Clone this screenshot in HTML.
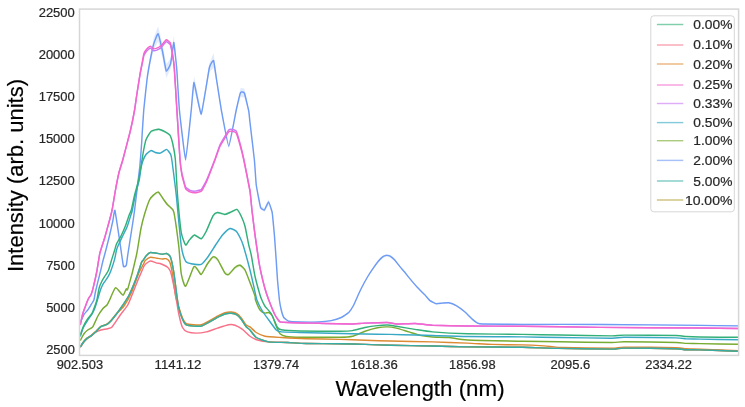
<!DOCTYPE html>
<html><head><meta charset="utf-8"><style>
html,body{margin:0;padding:0;background:#fff;}
body{width:745px;height:407px;overflow:hidden;}
svg{display:block;will-change:transform;}
text{font-family:"Liberation Sans",sans-serif;fill:#262626;}
.tk{font-size:12.4px;stroke:#262626;stroke-width:0.2px;}
.lg{font-size:13.2px;stroke:#262626;stroke-width:0.2px;}
.lab{font-size:22.7px;fill:#000;stroke:#000;stroke-width:0.2px;}
</style></head><body>
<svg width="745" height="407" viewBox="0 0 745 407">
<rect x="0" y="0" width="745" height="407" fill="#fff"/>
<defs><clipPath id="ax"><rect x="79.5" y="9.1" width="659.1" height="346.29999999999995"/></clipPath></defs>
<g clip-path="url(#ax)">
<path d="M79.80,322.40 L80.90,320.65 L84.00,313.80 L87.75,309.40 L90.90,304.40 L93.90,299.40 L95.40,291.40 L97.50,282.60 L100.30,271.50 L102.90,260.40 L105.90,249.40 L109.90,233.40 L112.80,220.40 L114.90,209.70 L119.50,239.00 L123.40,265.60 L126.30,264.60 L127.75,254.40 L133.20,219.40 L134.60,209.40 L138.20,179.40 L139.80,166.20 L140.80,153.30 L141.70,141.10 L142.10,133.80 L143.75,108.80 L147.10,76.25 L150.25,56.00 L153.75,37.75 L158.10,26.25 L162.50,44.25 L166.25,64.00 L170.60,58.75 L173.75,35.50 L175.60,53.50 L176.90,69.00 L179.40,108.50 L185.60,158.00 L191.25,108.00 L194.00,76.00 L201.25,111.00 L209.40,63.50 L213.60,53.10 L216.60,77.00 L221.50,109.00 L228.75,143.75 L236.25,108.00 L240.60,88.00 L244.40,88.60 L248.75,109.00 L250.00,121.30 L254.40,158.80 L256.25,183.80 L260.60,206.30 L264.40,208.00 L268.50,198.90 L271.90,209.25 L272.50,213.80 L274.40,233.80 L276.25,259.80 L277.50,278.80 L279.40,298.80 L281.25,308.80 L283.75,316.30 L288.75,320.65 L300.00,321.40 L318.75,321.30 L331.25,320.00 L341.25,316.90 L348.75,311.90 L353.75,304.40 L358.75,293.15 L362.00,286.40 L367.20,276.90 L372.40,268.80 L378.30,260.00 L382.70,255.50 L386.40,254.10 L390.10,254.80 L394.50,258.50 L399.70,265.80 L404.80,271.70 L409.00,277.00 L417.50,286.90 L425.00,294.40 L430.00,300.00 L436.25,303.15 L442.50,302.50 L448.75,302.15 L456.25,305.00 L465.00,311.40 L472.50,318.80 L477.50,322.50 L482.50,323.40 L522.50,323.80 L600.00,323.80 L700.00,324.80 L738.50,325.30 L738.50,326.50 L700.00,326.00 L600.00,325.00 L522.50,325.00 L482.50,324.60 L477.50,323.70 L472.50,320.00 L465.00,312.60 L456.25,306.20 L448.75,303.35 L442.50,303.70 L436.25,304.35 L430.00,301.20 L425.00,295.60 L417.50,288.10 L409.00,278.20 L404.80,272.90 L399.70,267.00 L394.50,261.10 L390.10,257.40 L386.40,256.70 L382.70,258.10 L378.30,262.60 L372.40,270.00 L367.20,278.10 L362.00,287.60 L358.75,294.35 L353.75,305.60 L348.75,313.10 L341.25,318.10 L331.25,321.20 L318.75,322.50 L300.00,322.60 L288.75,321.85 L283.75,318.70 L281.25,311.20 L279.40,301.20 L277.50,281.20 L276.25,262.20 L274.40,236.20 L272.50,216.20 L271.90,213.25 L268.50,204.90 L264.40,212.00 L260.60,208.70 L256.25,186.20 L254.40,161.20 L250.00,123.70 L248.75,113.00 L244.40,97.60 L240.60,97.00 L236.25,112.00 L228.75,148.75 L221.50,113.00 L216.60,83.00 L213.60,68.10 L209.40,71.50 L201.25,117.00 L194.00,89.00 L191.25,112.00 L185.60,162.00 L179.40,111.50 L176.90,73.00 L175.60,61.50 L173.75,49.50 L170.60,68.75 L166.25,78.00 L162.50,58.25 L158.10,41.25 L153.75,49.75 L150.25,64.00 L147.10,81.25 L143.75,111.20 L142.10,136.20 L141.70,143.50 L140.80,155.70 L139.80,167.40 L138.20,180.60 L134.60,210.60 L133.20,220.60 L127.75,255.60 L126.30,265.80 L123.40,266.80 L119.50,240.20 L114.90,210.90 L112.80,221.60 L109.90,234.60 L105.90,250.60 L102.90,261.60 L100.30,272.70 L97.50,283.80 L95.40,292.60 L93.90,300.60 L90.90,305.60 L87.75,310.60 L84.00,315.00 L80.90,321.85 L79.80,323.60 Z" fill="#6e9bf4" fill-opacity="0.2" stroke="none"/><path d="M140.90,227.35 L144.60,212.60 L149.60,198.30 L154.00,193.20 L158.40,190.80 L164.30,199.10 L167.30,203.10 L170.90,206.40 L173.90,210.90 L178.75,244.60 L181.25,272.35 L185.60,284.85 L193.75,265.50 L197.50,268.00 L201.25,273.00 L207.50,262.35 L213.10,255.50 L217.50,258.00 L225.00,271.70 L228.75,273.00 L235.00,266.10 L240.00,263.85 L245.00,268.60 L250.00,281.10 L250.00,283.90 L245.00,271.40 L240.00,266.65 L235.00,268.90 L228.75,275.80 L225.00,274.50 L217.50,260.80 L213.10,258.30 L207.50,265.15 L201.25,275.80 L197.50,270.80 L193.75,268.30 L185.60,287.65 L181.25,275.15 L178.75,247.40 L173.90,213.70 L170.90,209.20 L167.30,205.90 L164.30,201.90 L158.40,193.60 L154.00,196.00 L149.60,201.10 L144.60,215.40 L140.90,230.15 Z" fill="#77ab31" fill-opacity="0.2" stroke="none"/><path d="M141.70,160.80 L143.50,149.80 L146.00,138.70 L151.20,130.20 L158.70,128.20 L165.20,130.70 L169.90,134.00 L172.70,142.40 L175.30,157.90 L177.50,193.90 L181.25,231.40 L185.60,243.90 L189.00,239.40 L194.40,233.90 L201.25,237.65 L206.25,230.15 L213.10,214.50 L217.50,211.40 L225.00,213.30 L231.25,210.80 L236.90,208.30 L241.25,215.15 L245.00,225.15 L248.75,243.90 L248.75,246.10 L245.00,227.35 L241.25,217.35 L236.90,210.50 L231.25,213.00 L225.00,215.50 L217.50,213.60 L213.10,216.70 L206.25,232.35 L201.25,239.85 L194.40,236.10 L189.00,241.60 L185.60,246.10 L181.25,233.60 L177.50,196.10 L175.30,160.10 L172.70,144.60 L169.90,136.20 L165.20,132.90 L158.70,130.40 L151.20,132.40 L146.00,140.90 L143.50,152.00 L141.70,163.00 Z" fill="#33b07a" fill-opacity="0.2" stroke="none"/><path d="M141.00,167.10 L142.90,159.80 L146.00,153.60 L150.90,149.70 L155.25,151.60 L160.25,152.20 L166.50,148.50 L169.40,151.60 L170.90,154.10 L172.00,160.10 L176.25,194.10 L181.25,245.10 L185.60,260.35 L191.25,262.85 L201.25,263.50 L207.50,256.60 L215.60,244.10 L222.50,234.10 L230.00,227.60 L236.25,230.35 L240.00,236.60 L243.10,244.10 L250.00,269.10 L250.00,270.90 L243.10,245.90 L240.00,238.40 L236.25,232.15 L230.00,229.40 L222.50,235.90 L215.60,245.90 L207.50,258.40 L201.25,265.30 L191.25,264.65 L185.60,262.15 L181.25,246.90 L176.25,195.90 L172.00,161.90 L170.90,155.90 L169.40,153.40 L166.50,150.30 L160.25,154.00 L155.25,153.40 L150.90,151.50 L146.00,155.40 L142.90,161.60 L141.00,168.90 Z" fill="#38a9c5" fill-opacity="0.2" stroke="none"/>

<path d="M79.80,323.00 C79.86,322.90 80.66,321.75 80.90,321.25 C81.15,320.75 83.60,315.06 84.00,314.40 C84.40,313.74 87.35,310.55 87.75,310.00 C88.15,309.45 90.54,305.58 90.90,305.00 C91.26,304.42 93.64,300.76 93.90,300.00 C94.16,299.24 95.19,292.98 95.40,292.00 C95.61,291.02 97.21,284.36 97.50,283.20 C97.79,282.04 99.98,273.40 100.30,272.10 C100.61,270.81 102.57,262.29 102.90,261.00 C103.23,259.71 105.49,251.57 105.90,250.00 C106.31,248.43 109.50,235.69 109.90,234.00 C110.30,232.31 112.51,222.38 112.80,221.00 C113.09,219.62 114.51,209.22 114.90,210.30 C115.29,211.39 119.00,236.34 119.50,239.60 C120.00,242.86 123.00,264.71 123.40,266.20 C123.80,267.69 126.05,265.85 126.30,265.20 C126.55,264.55 127.35,257.64 127.75,255.00 C128.15,252.36 132.80,222.62 133.20,220.00 C133.60,217.38 134.31,212.33 134.60,210.00 C134.89,207.67 137.90,182.52 138.20,180.00 C138.50,177.48 139.65,168.29 139.80,166.80 C139.95,165.31 140.69,155.93 140.80,154.50 C140.91,153.07 141.62,143.44 141.70,142.30 C141.78,141.16 141.98,136.88 142.10,135.00 C142.22,133.12 143.46,113.28 143.75,110.00 C144.04,106.72 146.72,81.67 147.10,78.75 C147.48,75.83 149.86,62.04 150.25,60.00 C150.64,57.96 153.29,45.28 153.75,43.75 C154.21,42.22 157.59,33.31 158.10,33.75 C158.61,34.19 162.02,49.08 162.50,51.25 C162.98,53.42 165.78,70.27 166.25,71.00 C166.72,71.73 170.16,65.41 170.60,63.75 C171.04,62.09 173.46,42.86 173.75,42.50 C174.04,42.14 175.42,55.84 175.60,57.50 C175.78,59.16 176.68,67.94 176.90,71.00 C177.12,74.06 178.89,104.81 179.40,110.00 C179.91,115.19 184.91,160.00 185.60,160.00 C186.29,160.00 190.76,114.52 191.25,110.00 C191.74,105.48 193.42,82.27 194.00,82.50 C194.58,82.73 200.35,114.88 201.25,114.00 C202.15,113.12 208.68,70.61 209.40,67.50 C210.12,64.39 213.18,59.87 213.60,60.60 C214.02,61.33 216.14,77.06 216.60,80.00 C217.06,82.94 220.79,107.14 221.50,111.00 C222.21,114.86 227.89,146.31 228.75,146.25 C229.61,146.19 235.56,113.14 236.25,110.00 C236.94,106.86 240.12,93.49 240.60,92.50 C241.08,91.51 243.92,92.02 244.40,93.10 C244.88,94.18 248.42,109.28 248.75,111.00 C249.08,112.72 249.67,119.64 250.00,122.50 C250.33,125.36 254.04,156.35 254.40,160.00 C254.76,163.65 255.89,182.23 256.25,185.00 C256.61,187.77 260.12,206.04 260.60,207.50 C261.08,208.96 263.94,210.33 264.40,210.00 C264.86,209.67 268.06,201.83 268.50,201.90 C268.94,201.97 271.67,210.49 271.90,211.25 C272.13,212.01 272.35,213.61 272.50,215.00 C272.65,216.39 274.18,232.32 274.40,235.00 C274.62,237.68 276.07,258.38 276.25,261.00 C276.43,263.62 277.32,277.73 277.50,280.00 C277.68,282.27 279.18,298.25 279.40,300.00 C279.62,301.75 281.00,308.98 281.25,310.00 C281.50,311.02 283.31,316.84 283.75,317.50 C284.19,318.16 287.80,320.99 288.75,321.25 C289.70,321.51 298.25,321.96 300.00,322.00 C301.75,322.04 316.93,321.98 318.75,321.90 C320.57,321.82 329.94,320.86 331.25,320.60 C332.56,320.34 340.23,317.97 341.25,317.50 C342.27,317.03 348.02,313.23 348.75,312.50 C349.48,311.77 353.17,306.09 353.75,305.00 C354.33,303.91 358.27,294.80 358.75,293.75 C359.23,292.70 361.51,287.95 362.00,287.00 C362.49,286.05 366.59,278.53 367.20,277.50 C367.81,276.47 371.75,270.34 372.40,269.40 C373.05,268.45 377.70,262.04 378.30,261.30 C378.90,260.56 382.23,257.14 382.70,256.80 C383.17,256.46 385.97,255.44 386.40,255.40 C386.83,255.36 389.63,255.84 390.10,256.10 C390.57,256.36 393.94,259.20 394.50,259.80 C395.06,260.40 399.10,265.67 399.70,266.40 C400.30,267.13 404.26,271.65 404.80,272.30 C405.34,272.95 408.26,276.71 409.00,277.60 C409.74,278.49 416.57,286.49 417.50,287.50 C418.43,288.51 424.27,294.24 425.00,295.00 C425.73,295.76 429.34,300.09 430.00,300.60 C430.66,301.11 435.52,303.60 436.25,303.75 C436.98,303.90 441.77,303.16 442.50,303.10 C443.23,303.04 447.95,302.60 448.75,302.75 C449.55,302.90 455.30,305.06 456.25,305.60 C457.20,306.14 464.05,311.19 465.00,312.00 C465.95,312.81 471.77,318.75 472.50,319.40 C473.23,320.05 476.92,322.83 477.50,323.10 C478.08,323.37 479.88,323.92 482.50,324.00 C485.12,324.08 515.65,324.38 522.50,324.40 C529.35,324.42 589.65,324.34 600.00,324.40 C610.35,324.46 691.92,325.31 700.00,325.40 C708.08,325.49 736.25,325.87 738.50,325.90" fill="none" stroke="#6e9bf4" stroke-width="1.45" stroke-linejoin="round" stroke-linecap="butt"/><path d="M80.25,340.60 C80.62,339.92 83.25,334.81 84.00,333.75 C84.75,332.69 86.88,330.69 87.75,330.00 C88.62,329.31 91.75,328.27 92.75,326.90 C93.75,325.52 96.75,318.06 97.75,316.25 C98.75,314.44 101.83,309.88 102.75,308.75 C103.67,307.62 106.31,305.88 107.00,305.00 C107.69,304.12 108.76,301.72 109.60,300.00 C110.44,298.28 114.22,288.43 115.40,287.80 C116.58,287.17 120.60,292.98 121.40,293.70 C122.20,294.42 122.91,295.49 123.40,295.00 C123.89,294.51 125.85,289.44 126.30,288.80 C126.75,288.16 126.88,291.98 127.90,288.60 C128.92,285.22 135.20,260.99 136.50,255.00 C137.80,249.01 140.09,232.85 140.90,228.75 C141.71,224.65 143.73,216.91 144.60,214.00 C145.47,211.09 148.66,201.64 149.60,199.70 C150.54,197.76 153.12,195.35 154.00,194.60 C154.88,193.85 157.37,191.61 158.40,192.20 C159.43,192.79 163.41,199.27 164.30,200.50 C165.19,201.73 166.64,203.77 167.30,204.50 C167.96,205.23 170.24,207.02 170.90,207.80 C171.56,208.58 173.12,208.48 173.90,212.30 C174.69,216.12 178.01,239.85 178.75,246.00 C179.49,252.15 180.56,269.73 181.25,273.75 C181.94,277.77 184.35,286.94 185.60,286.25 C186.85,285.56 192.56,268.58 193.75,266.90 C194.94,265.21 196.75,268.65 197.50,269.40 C198.25,270.15 200.25,274.96 201.25,274.40 C202.25,273.83 206.31,265.50 207.50,263.75 C208.69,262.00 212.10,257.33 213.10,256.90 C214.10,256.46 216.31,257.78 217.50,259.40 C218.69,261.02 223.88,271.60 225.00,273.10 C226.12,274.60 227.75,274.96 228.75,274.40 C229.75,273.84 233.88,268.42 235.00,267.50 C236.12,266.58 239.00,265.00 240.00,265.25 C241.00,265.50 244.00,268.27 245.00,270.00 C246.00,271.73 249.00,279.90 250.00,282.50 C251.00,285.10 254.45,294.25 255.00,296.00 C255.50,297.75 255.00,298.60 255.50,300.00 C256.00,301.40 259.05,308.69 260.00,310.00 C260.95,311.31 264.12,312.85 265.00,313.10 C265.88,313.35 268.00,312.19 268.75,312.50 C269.50,312.81 271.75,314.88 272.50,316.25 C273.25,317.62 275.50,324.50 276.25,326.25 C277.00,328.00 279.00,332.73 280.00,333.75 C281.00,334.77 284.25,336.15 286.25,336.50 C288.25,336.85 294.62,337.18 300.00,337.25 C305.38,337.32 334.75,337.35 340.00,337.25 C345.25,337.15 350.00,336.85 352.50,336.25 C355.00,335.65 362.50,332.10 365.00,331.25 C367.50,330.40 375.25,328.19 377.50,327.75 C379.75,327.31 385.62,326.86 387.50,326.90 C389.38,326.94 394.12,327.60 396.25,328.10 C398.38,328.60 406.25,331.15 408.75,331.90 C411.25,332.65 418.88,335.09 421.25,335.60 C423.62,336.11 429.75,336.81 432.50,337.00 C435.25,337.19 445.25,337.20 448.75,337.50 C452.25,337.80 460.12,339.62 467.50,340.00 C474.88,340.38 513.25,341.07 522.50,341.25 C531.75,341.43 551.05,341.68 560.00,341.80 C568.95,341.93 605.60,342.50 612.00,342.50 C618.40,342.50 617.60,341.80 624.00,341.80 C630.40,341.80 669.80,342.34 676.00,342.50 C682.20,342.66 683.60,343.29 686.00,343.40 C688.40,343.51 694.75,343.51 700.00,343.60 C705.25,343.69 734.65,344.23 738.50,344.30" fill="none" stroke="#77ab31" stroke-width="1.45" stroke-linejoin="round" stroke-linecap="butt"/><path d="M80.25,336.50 C80.56,335.60 82.65,329.15 83.40,327.50 C84.15,325.85 86.88,321.35 87.75,320.00 C88.62,318.65 91.35,315.30 92.10,314.00 C92.85,312.70 94.60,308.80 95.25,307.00 C95.90,305.20 98.03,297.82 98.60,296.00 C99.16,294.18 100.40,290.08 100.90,288.80 C101.40,287.52 102.94,284.31 103.60,283.20 C104.26,282.09 106.78,278.92 107.50,277.70 C108.22,276.48 110.08,272.88 110.80,271.00 C111.52,269.12 114.13,261.00 114.70,258.90 C115.27,256.80 116.12,251.41 116.50,250.00 C116.88,248.59 117.94,246.09 118.50,244.80 C119.06,243.51 121.25,238.87 122.10,237.10 C122.95,235.33 126.12,229.31 127.00,227.10 C127.88,224.89 130.36,216.71 130.90,215.00 C131.44,213.29 131.96,212.00 132.40,210.00 C132.84,208.00 134.62,198.00 135.30,195.00 C135.98,192.00 138.63,182.70 139.20,180.00 C139.77,177.30 140.63,169.93 141.00,168.00 C141.37,166.07 142.40,162.05 142.90,160.70 C143.40,159.35 145.20,155.51 146.00,154.50 C146.80,153.49 149.97,150.80 150.90,150.60 C151.83,150.40 154.31,152.25 155.25,152.50 C156.19,152.75 159.12,153.41 160.25,153.10 C161.38,152.79 165.59,149.46 166.50,149.40 C167.41,149.34 168.96,151.94 169.40,152.50 C169.84,153.06 170.64,154.15 170.90,155.00 C171.16,155.85 171.47,157.00 172.00,161.00 C172.53,165.00 175.32,186.50 176.25,195.00 C177.18,203.50 180.31,239.38 181.25,246.00 C182.19,252.62 184.60,259.48 185.60,261.25 C186.60,263.02 189.69,263.44 191.25,263.75 C192.81,264.06 199.62,265.02 201.25,264.40 C202.88,263.77 206.06,259.44 207.50,257.50 C208.94,255.56 214.10,247.25 215.60,245.00 C217.10,242.75 221.06,236.65 222.50,235.00 C223.94,233.35 228.62,228.88 230.00,228.50 C231.38,228.12 235.25,230.35 236.25,231.25 C237.25,232.15 239.31,236.12 240.00,237.50 C240.69,238.88 242.10,241.75 243.10,245.00 C244.10,248.25 248.94,265.88 250.00,270.00 C251.06,274.12 253.06,283.25 253.75,286.25 C254.44,289.25 256.02,297.50 256.90,300.00 C257.77,302.50 261.31,309.25 262.50,311.25 C263.69,313.25 267.38,318.12 268.75,320.00 C270.12,321.88 275.00,328.81 276.25,330.00 C277.50,331.19 278.88,331.65 281.25,331.90 C283.62,332.15 294.12,332.34 300.00,332.50 C305.88,332.66 333.50,333.35 340.00,333.50 C346.50,333.65 360.00,333.91 365.00,334.00 C370.00,334.09 385.00,334.30 390.00,334.40 C395.00,334.50 410.75,334.89 415.00,335.00 C419.25,335.11 427.25,335.35 432.50,335.50 C437.75,335.65 458.50,336.36 467.50,336.50 C476.50,336.64 513.25,336.80 522.50,336.90 C531.75,337.00 551.05,337.37 560.00,337.50 C568.95,337.63 605.60,338.22 612.00,338.20 C618.40,338.18 617.60,337.33 624.00,337.30 C630.40,337.27 669.80,337.74 676.00,337.90 C682.20,338.06 683.60,338.78 686.00,338.90 C688.40,339.02 694.75,339.01 700.00,339.10 C705.25,339.19 734.65,339.73 738.50,339.80" fill="none" stroke="#38a9c5" stroke-width="1.45" stroke-linejoin="round" stroke-linecap="butt"/><path d="M80.25,335.00 C80.56,334.12 82.65,327.88 83.40,326.25 C84.15,324.62 86.88,320.06 87.75,318.75 C88.62,317.44 91.35,314.48 92.10,313.10 C92.85,311.73 94.77,306.31 95.25,305.00 C95.73,303.69 96.51,301.73 96.90,300.00 C97.30,298.27 98.69,289.60 99.20,287.70 C99.71,285.80 101.39,282.22 102.00,281.00 C102.61,279.78 104.64,276.61 105.30,275.50 C105.96,274.39 107.94,271.56 108.60,269.90 C109.26,268.24 111.29,260.89 111.90,258.90 C112.51,256.91 114.23,251.52 114.70,250.00 C115.17,248.48 115.97,245.10 116.60,243.70 C117.23,242.30 120.12,237.77 121.00,236.00 C121.88,234.23 124.58,228.10 125.40,226.00 C126.22,223.90 128.61,216.60 129.20,215.00 C129.79,213.40 130.76,212.00 131.30,210.00 C131.84,208.00 133.87,198.00 134.60,195.00 C135.33,192.00 137.89,183.31 138.60,180.00 C139.31,176.69 141.21,164.81 141.70,161.90 C142.19,158.99 143.07,153.11 143.50,150.90 C143.93,148.69 145.23,141.76 146.00,139.80 C146.77,137.84 149.93,132.35 151.20,131.30 C152.47,130.25 157.30,129.25 158.70,129.30 C160.10,129.35 164.08,131.22 165.20,131.80 C166.32,132.38 169.15,133.93 169.90,135.10 C170.65,136.27 172.16,141.11 172.70,143.50 C173.24,145.89 174.82,153.85 175.30,159.00 C175.78,164.15 176.91,187.65 177.50,195.00 C178.09,202.35 180.44,227.50 181.25,232.50 C182.06,237.50 184.82,244.20 185.60,245.00 C186.38,245.80 188.12,241.50 189.00,240.50 C189.88,239.50 193.18,235.18 194.40,235.00 C195.62,234.82 200.06,239.12 201.25,238.75 C202.44,238.38 205.06,233.56 206.25,231.25 C207.44,228.94 211.97,217.47 213.10,215.60 C214.22,213.72 216.31,212.62 217.50,212.50 C218.69,212.38 223.62,214.46 225.00,214.40 C226.38,214.34 230.06,212.40 231.25,211.90 C232.44,211.40 235.90,208.97 236.90,209.40 C237.90,209.84 240.44,214.56 241.25,216.25 C242.06,217.94 244.25,223.38 245.00,226.25 C245.75,229.12 248.12,242.12 248.75,245.00 C249.38,247.88 250.62,251.88 251.25,255.00 C251.88,258.12 254.12,272.25 255.00,276.25 C255.88,280.25 259.31,292.62 260.00,295.00 C260.69,297.38 261.40,298.88 261.90,300.00 C262.40,301.12 264.06,304.88 265.00,306.25 C265.94,307.62 270.00,311.62 271.25,313.75 C272.50,315.88 276.50,325.90 277.50,327.50 C278.50,329.10 279.00,329.40 281.25,329.75 C283.50,330.10 294.12,330.85 300.00,331.00 C305.88,331.15 334.75,331.29 340.00,331.25 C345.25,331.21 350.00,330.98 352.50,330.60 C355.00,330.23 362.50,328.00 365.00,327.50 C367.50,327.00 375.25,325.85 377.50,325.60 C379.75,325.35 385.62,324.94 387.50,325.00 C389.38,325.06 393.50,325.81 396.25,326.25 C399.00,326.69 411.38,328.83 415.00,329.40 C418.62,329.96 427.25,331.46 432.50,331.90 C437.75,332.33 458.50,333.50 467.50,333.75 C476.50,334.00 513.25,334.27 522.50,334.40 C531.75,334.52 551.05,334.85 560.00,335.00 C568.95,335.15 605.60,335.89 612.00,335.90 C618.40,335.91 617.60,335.14 624.00,335.10 C630.40,335.06 669.80,335.36 676.00,335.50 C682.20,335.64 683.60,336.35 686.00,336.50 C688.40,336.65 694.75,336.92 700.00,337.00 C705.25,337.08 734.65,337.27 738.50,337.30" fill="none" stroke="#33b07a" stroke-width="1.45" stroke-linejoin="round" stroke-linecap="butt"/><path d="M80.25,325.00 C80.38,324.44 82.47,314.75 82.75,313.75 C83.03,312.75 85.62,305.75 85.90,305.00 C86.18,304.25 88.15,299.26 88.40,298.75 C88.66,298.24 90.78,295.20 91.00,294.70 C91.22,294.20 92.61,289.99 92.90,288.80 C93.20,287.62 96.56,272.77 96.90,271.00 C97.25,269.23 99.41,255.06 99.80,253.40 C100.19,251.74 104.21,239.37 104.70,237.70 C105.19,236.03 109.23,221.38 109.60,220.00 C109.97,218.62 111.82,211.44 112.10,210.00 C112.38,208.56 114.91,193.12 115.25,191.25 C115.59,189.38 118.62,174.06 119.00,172.50 C119.38,170.94 122.19,162.06 122.75,160.00 C123.31,157.94 129.66,133.75 130.25,131.25 C130.84,128.75 134.28,111.81 134.60,110.00 C134.92,108.19 136.48,96.76 136.75,95.00 C137.02,93.24 139.72,76.36 140.00,74.76 C140.28,73.16 142.20,63.95 142.40,62.97 C142.60,61.99 143.76,55.83 144.00,55.20 C144.24,54.57 146.88,50.76 147.20,50.40 C147.52,50.04 150.08,47.98 150.40,48.00 C150.72,48.02 153.25,50.61 153.60,50.70 C153.95,50.79 157.10,49.97 157.50,49.80 C157.90,49.62 161.06,47.61 161.50,47.20 C161.94,46.79 165.86,41.72 166.30,41.60 C166.74,41.48 169.98,44.00 170.30,44.73 C170.62,45.46 172.50,54.98 172.70,56.17 C172.90,57.36 174.09,65.80 174.30,68.50 C174.51,71.20 176.62,105.65 176.90,110.19 C177.19,114.72 179.75,155.94 180.00,159.10 C180.25,162.26 181.62,172.03 181.90,173.44 C182.18,174.84 185.19,186.31 185.60,187.15 C186.00,187.99 189.53,190.10 190.00,190.30 C190.47,190.50 194.44,191.18 195.00,191.15 C195.56,191.12 200.69,190.16 201.25,189.65 C201.81,189.14 205.56,182.43 206.25,180.90 C206.94,179.37 214.31,160.81 215.00,159.00 C215.69,157.19 219.31,146.20 220.00,144.75 C220.69,143.30 228.12,130.77 228.75,130.00 C229.38,129.23 232.12,129.29 232.50,129.35 C232.88,129.41 235.88,130.51 236.25,131.20 C236.62,131.89 239.62,141.73 240.00,143.10 C240.38,144.47 243.25,156.21 243.75,158.59 C244.25,160.97 249.59,188.10 250.00,190.65 C250.41,193.20 251.65,207.30 251.90,209.50 C252.15,211.69 254.66,232.08 255.00,234.65 C255.34,237.22 258.44,258.88 258.75,260.84 C259.06,262.79 260.94,272.32 261.25,273.71 C261.56,275.11 264.62,287.44 265.00,288.75 C265.38,290.06 268.25,298.69 268.75,300.00 C269.25,301.31 274.44,313.90 275.00,315.00 C275.56,316.10 279.06,321.51 280.00,321.90 C280.94,322.29 292.12,322.69 293.75,322.75 C295.38,322.81 310.94,323.06 312.50,323.10 C314.06,323.14 323.12,323.45 325.00,323.50 C326.88,323.55 348.00,324.02 350.00,324.00 C352.00,323.98 363.12,323.18 365.00,323.10 C366.88,323.03 385.94,322.45 387.50,322.50 C389.06,322.55 394.88,323.95 396.25,324.00 C397.62,324.05 413.19,323.44 415.00,323.50 C416.81,323.56 429.88,325.12 432.50,325.25 C435.12,325.38 463.00,325.95 467.50,326.00 C472.00,326.05 515.88,326.18 522.50,326.25 C529.12,326.32 591.12,327.31 600.00,327.40 C608.88,327.49 693.08,327.94 700.00,328.00 C706.92,328.06 736.58,328.48 738.50,328.50" fill="none" stroke="#cc7af4" stroke-width="1.45" stroke-linejoin="round" stroke-linecap="butt"/><path d="M80.25,325.00 C80.38,324.44 82.47,314.75 82.75,313.75 C83.03,312.75 85.62,305.75 85.90,305.00 C86.18,304.25 88.15,299.26 88.40,298.75 C88.66,298.24 90.78,295.20 91.00,294.70 C91.22,294.20 92.61,289.99 92.90,288.80 C93.20,287.62 96.56,272.77 96.90,271.00 C97.25,269.23 99.41,255.06 99.80,253.40 C100.19,251.74 104.21,239.37 104.70,237.70 C105.19,236.03 109.23,221.38 109.60,220.00 C109.97,218.62 111.82,211.44 112.10,210.00 C112.38,208.56 114.91,193.12 115.25,191.25 C115.59,189.38 118.62,174.06 119.00,172.50 C119.38,170.94 122.19,162.06 122.75,160.00 C123.31,157.94 129.66,133.75 130.25,131.25 C130.84,128.75 134.28,111.81 134.60,110.00 C134.92,108.19 136.48,96.80 136.75,95.00 C137.02,93.20 139.72,75.69 140.00,74.00 C140.28,72.31 142.20,62.33 142.40,61.30 C142.60,60.27 143.76,53.94 144.00,53.30 C144.24,52.66 146.88,48.86 147.20,48.50 C147.52,48.14 150.08,46.09 150.40,46.10 C150.72,46.12 153.25,48.71 153.60,48.80 C153.95,48.89 157.10,48.07 157.50,47.90 C157.90,47.73 161.06,45.71 161.50,45.30 C161.94,44.89 165.86,39.82 166.30,39.70 C166.74,39.58 169.98,42.14 170.30,42.90 C170.62,43.66 172.50,53.66 172.70,54.90 C172.90,56.13 174.09,64.84 174.30,67.60 C174.51,70.35 176.62,105.38 176.90,110.00 C177.19,114.62 179.75,156.75 180.00,160.00 C180.25,163.25 181.62,173.56 181.90,175.00 C182.18,176.44 185.19,187.91 185.60,188.75 C186.00,189.59 189.53,191.70 190.00,191.90 C190.47,192.10 194.44,192.78 195.00,192.75 C195.56,192.72 200.69,191.76 201.25,191.25 C201.81,190.74 205.56,184.06 206.25,182.50 C206.94,180.94 214.31,161.81 215.00,160.00 C215.69,158.19 219.31,147.66 220.00,146.25 C220.69,144.84 228.12,132.65 228.75,131.90 C229.38,131.15 232.12,131.19 232.50,131.25 C232.88,131.31 235.88,132.41 236.25,133.10 C236.62,133.79 239.62,143.66 240.00,145.00 C240.38,146.34 243.25,157.69 243.75,160.00 C244.25,162.31 249.59,188.75 250.00,191.25 C250.41,193.75 251.65,207.81 251.90,210.00 C252.15,212.19 254.66,232.45 255.00,235.00 C255.34,237.55 258.44,259.06 258.75,261.00 C259.06,262.94 260.94,272.36 261.25,273.75 C261.56,275.14 264.62,287.44 265.00,288.75 C265.38,290.06 268.25,298.69 268.75,300.00 C269.25,301.31 274.44,313.90 275.00,315.00 C275.56,316.10 279.06,321.51 280.00,321.90 C280.94,322.29 292.12,322.69 293.75,322.75 C295.38,322.81 310.94,323.06 312.50,323.10 C314.06,323.14 323.12,323.45 325.00,323.50 C326.88,323.55 348.00,324.02 350.00,324.00 C352.00,323.98 363.12,323.18 365.00,323.10 C366.88,323.03 385.94,322.45 387.50,322.50 C389.06,322.55 394.88,323.95 396.25,324.00 C397.62,324.05 413.19,323.44 415.00,323.50 C416.81,323.56 429.88,325.12 432.50,325.25 C435.12,325.38 463.00,325.95 467.50,326.00 C472.00,326.05 515.88,326.18 522.50,326.25 C529.12,326.32 591.12,327.31 600.00,327.40 C608.88,327.49 693.08,327.94 700.00,328.00 C706.92,328.06 736.58,328.48 738.50,328.50" fill="none" stroke="#f565cc" stroke-width="1.45" stroke-linejoin="round" stroke-linecap="butt"/><path d="M80.25,347.00 C80.62,346.43 83.31,342.14 84.00,341.25 C84.69,340.36 86.41,338.67 87.10,338.10 C87.79,337.54 90.09,336.22 90.90,335.60 C91.72,334.98 94.25,332.83 95.25,331.90 C96.25,330.96 99.78,327.00 100.90,326.25 C102.03,325.50 105.50,324.96 106.50,324.40 C107.50,323.83 109.90,321.67 110.90,320.60 C111.90,319.54 115.19,315.21 116.50,313.75 C117.81,312.29 122.50,308.12 124.00,306.00 C125.50,303.88 130.00,295.85 131.50,292.50 C133.00,289.15 137.77,275.40 139.00,272.50 C140.23,269.60 143.20,264.67 143.80,263.50 C144.40,262.33 144.35,261.43 145.00,260.80 C145.65,260.17 149.12,257.46 150.30,257.20 C151.48,256.94 155.59,258.02 156.80,258.20 C158.01,258.38 161.47,258.95 162.40,259.00 C163.33,259.05 165.37,258.41 166.10,258.70 C166.83,258.99 169.09,260.53 169.70,261.90 C170.31,263.27 171.61,268.99 172.20,272.40 C172.79,275.81 174.94,292.54 175.60,296.00 C176.25,299.46 178.06,304.80 178.75,307.00 C179.44,309.20 181.75,316.34 182.50,318.00 C183.25,319.66 185.12,322.92 186.25,323.60 C187.38,324.28 192.25,324.68 193.75,324.80 C195.25,324.92 199.75,325.17 201.25,324.80 C202.75,324.43 207.12,321.97 208.75,321.10 C210.38,320.23 215.88,316.94 217.50,316.10 C219.12,315.26 223.62,313.11 225.00,312.70 C226.38,312.29 230.06,311.91 231.25,312.00 C232.44,312.09 235.90,313.00 236.90,313.60 C237.90,314.20 240.31,316.86 241.25,318.00 C242.19,319.14 245.38,324.11 246.25,325.00 C247.12,325.89 249.00,326.15 250.00,326.90 C251.00,327.65 254.75,331.56 256.25,332.50 C257.75,333.44 262.50,335.75 265.00,336.25 C267.50,336.75 277.12,337.25 281.25,337.50 C285.38,337.75 300.38,338.56 306.25,338.75 C312.12,338.94 334.12,339.25 340.00,339.40 C345.88,339.55 360.00,340.09 365.00,340.25 C370.00,340.41 383.25,340.83 390.00,341.00 C396.75,341.17 424.75,341.69 432.50,341.90 C440.25,342.11 461.50,342.85 467.50,343.10 C473.50,343.35 487.00,344.22 492.50,344.40 C498.00,344.58 517.75,344.78 522.50,344.90 C527.25,345.02 537.05,345.43 540.00,345.60 C542.95,345.77 549.80,346.41 552.00,346.60 C554.20,346.79 556.00,347.34 562.00,347.50 C568.00,347.66 605.80,348.24 612.00,348.20 C618.20,348.16 617.60,347.15 624.00,347.10 C630.40,347.05 669.80,347.53 676.00,347.70 C682.20,347.87 683.60,348.65 686.00,348.80 C688.40,348.95 694.75,349.02 700.00,349.20 C705.25,349.38 734.65,350.46 738.50,350.60" fill="none" stroke="#dc8932" stroke-width="1.45" stroke-linejoin="round" stroke-linecap="butt"/><path d="M80.25,347.30 C80.62,346.75 83.31,342.66 84.00,341.80 C84.69,340.94 86.41,339.26 87.10,338.70 C87.79,338.14 90.09,336.82 90.90,336.20 C91.72,335.58 94.25,333.12 95.25,332.50 C96.25,331.88 99.65,330.38 100.90,330.00 C102.15,329.62 106.63,329.06 107.75,328.75 C108.87,328.44 110.85,328.27 112.10,326.90 C113.35,325.52 118.69,317.19 120.25,315.00 C121.81,312.81 126.38,307.50 127.75,305.00 C129.12,302.50 132.88,292.75 134.00,290.00 C135.12,287.25 138.30,279.20 139.00,277.50 C139.70,275.80 140.50,274.12 141.00,273.00 C141.50,271.88 143.48,267.20 144.00,266.25 C144.52,265.30 145.55,264.02 146.20,263.50 C146.85,262.98 149.44,261.04 150.50,261.00 C151.56,260.96 155.85,262.85 156.80,263.10 C157.75,263.35 159.11,263.21 160.00,263.50 C160.89,263.79 164.90,265.59 165.70,266.00 C166.50,266.41 167.52,267.04 168.00,267.60 C168.48,268.16 170.00,270.16 170.50,271.60 C171.00,273.04 172.49,279.66 173.00,282.00 C173.51,284.34 175.03,291.82 175.60,295.00 C176.17,298.18 178.06,310.50 178.75,313.75 C179.44,317.00 181.62,325.69 182.50,327.50 C183.38,329.31 186.12,331.34 187.50,331.90 C188.88,332.46 194.38,333.10 196.25,333.10 C198.12,333.10 204.12,332.40 206.25,331.90 C208.38,331.40 215.25,328.81 217.50,328.10 C219.75,327.39 227.00,325.04 228.75,324.75 C230.50,324.46 233.62,324.79 235.00,325.25 C236.38,325.71 241.00,328.30 242.50,329.40 C244.00,330.50 248.50,335.19 250.00,336.25 C251.50,337.31 255.62,339.44 257.50,340.00 C259.38,340.56 265.75,341.65 268.75,341.90 C271.75,342.15 283.75,342.34 287.50,342.50 C291.25,342.66 301.00,343.38 306.25,343.50 C311.50,343.62 334.12,343.66 340.00,343.75 C345.88,343.84 360.00,344.25 365.00,344.40 C370.00,344.55 383.25,345.09 390.00,345.25 C396.75,345.41 424.75,345.83 432.50,346.00 C440.25,346.17 458.50,346.77 467.50,346.90 C476.50,347.02 513.45,347.10 522.50,347.25 C531.55,347.40 549.05,348.21 558.00,348.40 C566.95,348.58 605.40,349.13 612.00,349.10 C618.60,349.07 617.60,348.14 624.00,348.10 C630.40,348.06 669.80,348.53 676.00,348.70 C682.20,348.87 683.60,349.68 686.00,349.80 C688.40,349.92 694.75,349.76 700.00,349.90 C705.25,350.04 734.65,351.07 738.50,351.20" fill="none" stroke="#f77189" stroke-width="1.45" stroke-linejoin="round" stroke-linecap="butt"/><path d="M80.25,347.00 C80.62,346.45 83.31,342.36 84.00,341.50 C84.69,340.64 86.41,338.96 87.10,338.40 C87.79,337.84 90.09,336.52 90.90,335.90 C91.72,335.28 94.25,333.13 95.25,332.20 C96.25,331.27 99.78,327.35 100.90,326.60 C102.03,325.85 105.50,325.27 106.50,324.70 C107.50,324.13 109.90,321.97 110.90,320.90 C111.90,319.83 115.31,315.57 116.50,314.00 C117.69,312.43 121.50,307.08 122.75,305.20 C124.00,303.32 127.62,297.97 129.00,295.20 C130.38,292.43 135.25,280.77 136.50,277.50 C137.75,274.23 140.85,264.20 141.50,262.50 C142.15,260.80 142.53,261.17 143.00,260.50 C143.47,259.83 145.47,256.60 146.20,255.80 C146.93,255.00 149.24,252.75 150.30,252.50 C151.36,252.25 155.59,253.13 156.80,253.30 C158.01,253.47 161.43,254.18 162.40,254.20 C163.37,254.22 165.69,253.19 166.50,253.50 C167.31,253.81 169.77,255.41 170.50,257.30 C171.23,259.19 173.16,268.53 173.80,272.40 C174.44,276.27 176.41,292.46 176.90,296.00 C177.40,299.54 178.19,305.48 178.75,307.80 C179.31,310.12 181.75,317.49 182.50,319.20 C183.25,320.91 185.12,324.21 186.25,324.90 C187.38,325.59 192.25,325.98 193.75,326.10 C195.25,326.22 199.75,326.47 201.25,326.10 C202.75,325.73 207.12,323.27 208.75,322.40 C210.38,321.53 215.88,318.24 217.50,317.40 C219.12,316.56 223.62,314.41 225.00,314.00 C226.38,313.59 230.06,313.21 231.25,313.30 C232.44,313.39 235.90,314.30 236.90,314.90 C237.90,315.50 240.31,318.11 241.25,319.30 C242.19,320.49 245.38,325.73 246.25,326.80 C247.12,327.87 249.00,328.93 250.00,330.00 C251.00,331.07 254.38,336.31 256.25,337.50 C258.12,338.69 265.62,341.40 268.75,341.90 C271.88,342.40 283.75,342.34 287.50,342.50 C291.25,342.66 301.00,343.38 306.25,343.50 C311.50,343.62 334.12,343.66 340.00,343.75 C345.88,343.84 360.00,344.25 365.00,344.40 C370.00,344.55 383.25,345.09 390.00,345.25 C396.75,345.41 424.75,345.83 432.50,346.00 C440.25,346.17 458.50,346.77 467.50,346.90 C476.50,347.02 513.45,347.10 522.50,347.25 C531.55,347.40 549.05,348.21 558.00,348.40 C566.95,348.58 605.40,349.13 612.00,349.10 C618.60,349.07 617.60,348.14 624.00,348.10 C630.40,348.06 669.80,348.53 676.00,348.70 C682.20,348.87 683.60,349.68 686.00,349.80 C688.40,349.92 694.75,349.76 700.00,349.90 C705.25,350.04 734.65,351.07 738.50,351.20" fill="none" stroke="#ae9d31" stroke-width="1.45" stroke-linejoin="round" stroke-linecap="butt"/><path d="M80.25,347.00 C80.62,346.45 83.31,342.36 84.00,341.50 C84.69,340.64 86.41,338.96 87.10,338.40 C87.79,337.84 90.09,336.52 90.90,335.90 C91.72,335.28 94.25,333.13 95.25,332.20 C96.25,331.27 99.78,327.35 100.90,326.60 C102.03,325.85 105.50,325.27 106.50,324.70 C107.50,324.13 109.90,321.97 110.90,320.90 C111.90,319.83 115.31,315.57 116.50,314.00 C117.69,312.43 121.50,307.08 122.75,305.20 C124.00,303.32 127.62,297.97 129.00,295.20 C130.38,292.43 135.25,280.77 136.50,277.50 C137.75,274.23 140.85,264.20 141.50,262.50 C142.15,260.80 142.53,261.17 143.00,260.50 C143.47,259.83 145.47,256.60 146.20,255.80 C146.93,255.00 149.24,252.75 150.30,252.50 C151.36,252.25 155.59,253.13 156.80,253.30 C158.01,253.47 161.43,254.18 162.40,254.20 C163.37,254.22 165.69,253.19 166.50,253.50 C167.31,253.81 169.77,255.41 170.50,257.30 C171.23,259.19 173.16,268.53 173.80,272.40 C174.44,276.27 176.41,292.46 176.90,296.00 C177.40,299.54 178.19,305.48 178.75,307.80 C179.31,310.12 181.75,317.49 182.50,319.20 C183.25,320.91 185.12,324.21 186.25,324.90 C187.38,325.59 192.25,325.98 193.75,326.10 C195.25,326.22 199.75,326.47 201.25,326.10 C202.75,325.73 207.12,323.27 208.75,322.40 C210.38,321.53 215.88,318.24 217.50,317.40 C219.12,316.56 223.62,314.41 225.00,314.00 C226.38,313.59 230.06,313.21 231.25,313.30 C232.44,313.39 235.90,314.30 236.90,314.90 C237.90,315.50 240.31,318.11 241.25,319.30 C242.19,320.49 245.38,325.73 246.25,326.80 C247.12,327.87 249.00,328.93 250.00,330.00 C251.00,331.07 254.38,336.31 256.25,337.50 C258.12,338.69 265.62,341.40 268.75,341.90 C271.88,342.40 283.75,342.34 287.50,342.50 C291.25,342.66 301.00,343.38 306.25,343.50 C311.50,343.62 334.12,343.66 340.00,343.75 C345.88,343.84 360.00,344.25 365.00,344.40 C370.00,344.55 383.25,345.09 390.00,345.25 C396.75,345.41 424.75,345.83 432.50,346.00 C440.25,346.17 458.50,346.77 467.50,346.90 C476.50,347.02 513.45,347.10 522.50,347.25 C531.55,347.40 549.05,348.21 558.00,348.40 C566.95,348.58 605.40,349.13 612.00,349.10 C618.60,349.07 617.60,348.14 624.00,348.10 C630.40,348.06 669.80,348.53 676.00,348.70 C682.20,348.87 683.60,349.68 686.00,349.80 C688.40,349.92 694.75,349.76 700.00,349.90 C705.25,350.04 734.65,351.07 738.50,351.20" fill="none" stroke="#36ada4" stroke-width="1.45" stroke-linejoin="round" stroke-linecap="butt"/>
</g>
<rect x="79.5" y="9.1" width="659.1" height="346.29999999999995" fill="none" stroke="#d6d6d6" stroke-width="1.5"/>
<text x="46.20" y="354.10" textLength="28.60" lengthAdjust="spacingAndGlyphs" class="tk">2500</text><text x="46.20" y="311.92" textLength="28.60" lengthAdjust="spacingAndGlyphs" class="tk">5000</text><text x="46.20" y="269.74" textLength="28.60" lengthAdjust="spacingAndGlyphs" class="tk">7500</text><text x="38.70" y="227.56" textLength="36.10" lengthAdjust="spacingAndGlyphs" class="tk">10000</text><text x="38.70" y="185.38" textLength="36.10" lengthAdjust="spacingAndGlyphs" class="tk">12500</text><text x="38.70" y="143.20" textLength="36.10" lengthAdjust="spacingAndGlyphs" class="tk">15000</text><text x="38.70" y="101.02" textLength="36.10" lengthAdjust="spacingAndGlyphs" class="tk">17500</text><text x="38.70" y="58.84" textLength="36.10" lengthAdjust="spacingAndGlyphs" class="tk">20000</text><text x="38.70" y="16.66" textLength="36.10" lengthAdjust="spacingAndGlyphs" class="tk">22500</text>
<text x="56.65" y="369.0" textLength="46.40" lengthAdjust="spacingAndGlyphs" class="tk">902.503</text><text x="154.62" y="369.0" textLength="46.70" lengthAdjust="spacingAndGlyphs" class="tk">1141.12</text><text x="253.09" y="369.0" textLength="46.00" lengthAdjust="spacingAndGlyphs" class="tk">1379.74</text><text x="350.56" y="369.0" textLength="47.30" lengthAdjust="spacingAndGlyphs" class="tk">1618.36</text><text x="449.08" y="369.0" textLength="46.50" lengthAdjust="spacingAndGlyphs" class="tk">1856.98</text><text x="550.60" y="369.0" textLength="39.70" lengthAdjust="spacingAndGlyphs" class="tk">2095.6</text><text x="645.27" y="369.0" textLength="46.60" lengthAdjust="spacingAndGlyphs" class="tk">2334.22</text>
<text x="335.40" y="395.5" textLength="169.2" lengthAdjust="spacingAndGlyphs" class="lab">Wavelength (nm)</text>
<text transform="translate(23.1,175.5) rotate(-90)" x="-96.55" y="0" textLength="193.1" lengthAdjust="spacingAndGlyphs" class="lab">Intensity (arb. units)</text>
<rect x="650.8" y="15.8" width="83.5" height="196.0" rx="3" ry="3" fill="#fff" fill-opacity="0.8" stroke="#cccccc" stroke-opacity="0.8" stroke-width="1"/>
<line x1="656.9" y1="24.50" x2="683.3" y2="24.50" stroke="#33b07a" stroke-opacity="0.62" stroke-width="1.45"/><text x="693.30" y="28.80" textLength="39.10" lengthAdjust="spacingAndGlyphs" class="lg">0.00%</text><line x1="656.9" y1="45.00" x2="683.3" y2="45.00" stroke="#f77189" stroke-opacity="0.62" stroke-width="1.45"/><text x="693.30" y="49.10" textLength="39.10" lengthAdjust="spacingAndGlyphs" class="lg">0.10%</text><line x1="656.9" y1="64.00" x2="683.3" y2="64.00" stroke="#dc8932" stroke-opacity="0.62" stroke-width="1.45"/><text x="693.30" y="68.50" textLength="39.10" lengthAdjust="spacingAndGlyphs" class="lg">0.20%</text><line x1="656.9" y1="85.00" x2="683.3" y2="85.00" stroke="#f565cc" stroke-opacity="0.62" stroke-width="1.45"/><text x="693.30" y="89.40" textLength="39.10" lengthAdjust="spacingAndGlyphs" class="lg">0.25%</text><line x1="656.9" y1="103.50" x2="683.3" y2="103.50" stroke="#cc7af4" stroke-opacity="0.62" stroke-width="1.45"/><text x="693.30" y="107.80" textLength="39.10" lengthAdjust="spacingAndGlyphs" class="lg">0.33%</text><line x1="656.9" y1="122.60" x2="683.3" y2="122.60" stroke="#38a9c5" stroke-opacity="0.62" stroke-width="1.45"/><text x="693.30" y="127.30" textLength="39.10" lengthAdjust="spacingAndGlyphs" class="lg">0.50%</text><line x1="656.9" y1="140.70" x2="683.3" y2="140.70" stroke="#77ab31" stroke-opacity="0.62" stroke-width="1.45"/><text x="693.30" y="145.40" textLength="39.10" lengthAdjust="spacingAndGlyphs" class="lg">1.00%</text><line x1="656.9" y1="160.40" x2="683.3" y2="160.40" stroke="#6e9bf4" stroke-opacity="0.62" stroke-width="1.45"/><text x="693.30" y="164.80" textLength="39.10" lengthAdjust="spacingAndGlyphs" class="lg">2.00%</text><line x1="656.9" y1="181.00" x2="683.3" y2="181.00" stroke="#36ada4" stroke-opacity="0.62" stroke-width="1.45"/><text x="693.30" y="185.95" textLength="39.10" lengthAdjust="spacingAndGlyphs" class="lg">5.00%</text><line x1="656.9" y1="200.00" x2="683.3" y2="200.00" stroke="#ae9d31" stroke-opacity="0.62" stroke-width="1.45"/><text x="684.90" y="204.60" textLength="47.50" lengthAdjust="spacingAndGlyphs" class="lg">10.00%</text>
</svg>
</body></html>
